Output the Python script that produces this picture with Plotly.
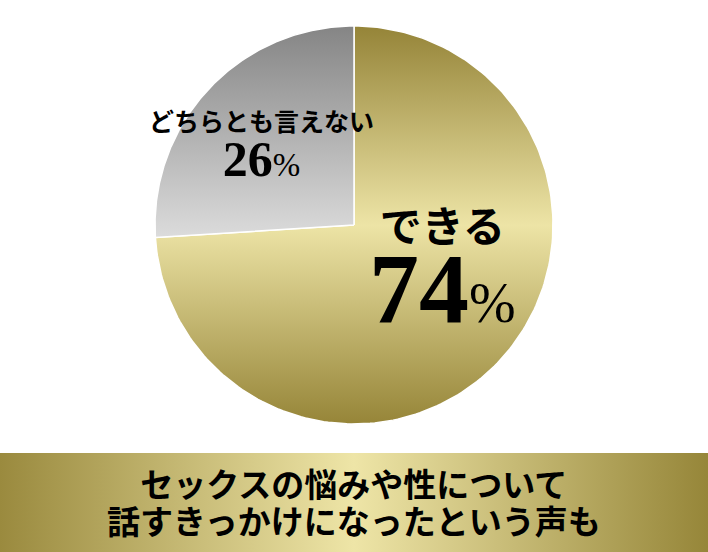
import numpy as np
import plotly.graph_objects as go

# data
labels = ["できる", "どちらとも言えない"]
values = [74, 26]
caption = ["セックスの悩みや性について", "話すきっかけになったという声も"]

W, H = 708, 552
cx, cy, r = 354, 552 - 225, 199

jp_font = "Noto Sans CJK JP"
num_font = "Liberation Serif"

fig = go.Figure()

# slices, clockwise from 12 o'clock
total = sum(values)
start = 90.0
fills = [
    dict(type="vertical", start=cy - r, stop=cy + r,
         colorscale=[[0, "#968538"], [0.5, "#ede4a6"], [1, "#958438"]]),
    dict(type="vertical", start=cy - 14, stop=cy + r,
         colorscale=[[0, "#dcdcdc"], [1, "#858585"]]),
]
for v, fg in zip(values, fills):
    sweep = 360.0 * v / total
    th = np.radians(np.linspace(start, start - sweep, 200))
    xs = np.concatenate([[cx], cx + r * np.cos(th), [cx]])
    ys = np.concatenate([[cy], cy + r * np.sin(th), [cy]])
    fig.add_trace(go.Scatter(x=xs, y=ys, mode="lines", fill="toself",
                             fillgradient=fg,
                             line=dict(color="white", width=1.5),
                             hoverinfo="skip", showlegend=False))
    start -= sweep

# banner
fig.add_trace(go.Scatter(x=[0, W, W, 0, 0], y=[0, 0, 99, 99, 0], mode="lines",
                         fill="toself",
                         fillgradient=dict(type="horizontal", start=0, stop=W,
                                           colorscale=[[0, "#9a8a3e"], [0.5, "#eee5a7"], [1, "#968639"]]),
                         line=dict(width=0), hoverinfo="skip", showlegend=False))

def span(t, size, family=None, weight=None):
    st = f"font-size:{size}px"
    if family:
        st += f";font-family:{family}"
    if weight:
        st += f";font-weight:{weight}"
    return f"<span style='{st}'>{t}</span>"

def block(label, v, lsize, big, small):
    return (span(label, lsize) + "<br>" + span(v, big, num_font)
            + span("%", small, num_font, "normal"))

# base font size sets the line gap (1.3em)
ann = [
    dict(x=442, y=552 - 268, text=block(labels[0], values[0], 42, 100, 56), size=61.5),
    dict(x=261, y=552 - 144, text=block(labels[1], values[1], 25, 50, 33), size=34.6),
    dict(x=W / 2, y=552 - 501, text="<br>".join(span(c, 33) for c in caption), size=28.5),
]
for a in ann:
    size = a.pop("size")
    fig.add_annotation(xref="x", yref="y", showarrow=False,
                       font=dict(family=jp_font, color="black", weight="bold", size=size),
                       **a)

fig.update_xaxes(range=[0, W], visible=False, fixedrange=True)
fig.update_yaxes(range=[0, H], visible=False, fixedrange=True)
fig.update_layout(width=W, height=H, margin=dict(l=0, r=0, t=0, b=0),
                  plot_bgcolor="white", paper_bgcolor="white")

fig.write_html("out.html", config={"displayModeBar": False},
               post_script="document.body.style.margin='0';document.body.style.overflow='hidden';")
